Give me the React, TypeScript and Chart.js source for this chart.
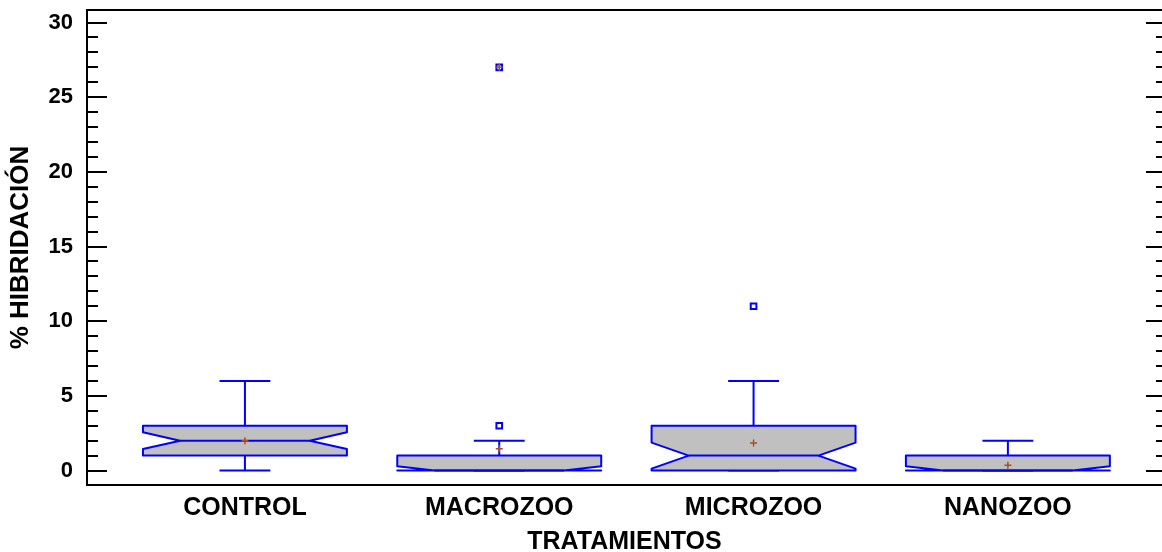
import React, { useEffect, useRef } from "react";
import { Chart, registerables } from "chart.js";

Chart.register(...registerables);

// ---- data ----
const categories = ["CONTROL", "MACROZOO", "MICROZOO", "NANOZOO"];
const whiskerLow = [0, 0, 0, 0];
const q1 = [1, 0, 0, 0];
const median = [2, 0, 1, 0];
const q3 = [3, 1, 3, 1];
const whiskerHigh = [6, 2, 6, 2];
const notchLow = [1.44, -0.28, 0.13, -0.28];
const notchHigh = [2.56, 0.28, 1.87, 0.28];
const means = [2.0, 1.45, 1.85, 0.35];
const outlierCategory = [1, 1, 2];
const outlierValues = [3, 27, 11];
const farOutlierCategory = [1];
const farOutlierValues = [27];
const yTickValues = [0, 5, 10, 15, 20, 25, 30];
const yMinorStep = 1;
const yTitle = "% HIBRIDACIÓN";
const xTitle = "TRATAMIENTOS";

// ---- styling ----
const BLUE = "#0000FF";
const GRAY = "#C0C0C0";
const BROWN = "#A8501E";
const FONT = "'Liberation Sans', Arial, Helvetica, sans-serif";
const BOX_WIDTH = 0.802; // in category units
const NOTCH_INDENT = 0.146;
const CAP_HALF = 0.1;

const boxPlugin = {
  id: "notchedBoxes",
  beforeDatasetsDraw(chart: any) {
    const { ctx, scales } = chart;
    const x = scales.x;
    const y = scales.y;
    ctx.save();
    ctx.lineJoin = "round";
    ctx.lineCap = "butt";
    categories.forEach((_, i) => {
      const cx = x.getPixelForValue(i);
      const left = x.getPixelForValue(i - BOX_WIDTH / 2);
      const right = x.getPixelForValue(i + BOX_WIDTH / 2);
      const ind = x.getPixelForValue(i + NOTCH_INDENT) - cx;
      const capL = x.getPixelForValue(i - CAP_HALF);
      const capR = x.getPixelForValue(i + CAP_HALF);
      const clamp = (v: number) => Math.min(q3[i], Math.max(q1[i], v));
      const yq1 = y.getPixelForValue(q1[i]);
      const yq3 = y.getPixelForValue(q3[i]);
      const ymed = y.getPixelForValue(median[i]);
      const ynl = y.getPixelForValue(clamp(notchLow[i]));
      const ynh = y.getPixelForValue(clamp(notchHigh[i]));
      const ywl = y.getPixelForValue(whiskerLow[i]);
      const ywh = y.getPixelForValue(whiskerHigh[i]);

      ctx.strokeStyle = BLUE;
      ctx.lineWidth = 2;
      // whiskers and caps
      ctx.beginPath();
      ctx.moveTo(cx, yq3);
      ctx.lineTo(cx, ywh);
      ctx.moveTo(capL, ywh);
      ctx.lineTo(capR, ywh);
      ctx.moveTo(cx, yq1);
      ctx.lineTo(cx, ywl);
      ctx.moveTo(capL, ywl);
      ctx.lineTo(capR, ywl);
      ctx.stroke();

      // notched box
      ctx.beginPath();
      ctx.moveTo(left, yq3);
      ctx.lineTo(left, ynh);
      ctx.lineTo(left + ind, ymed);
      ctx.lineTo(left, ynl);
      ctx.lineTo(left, yq1);
      ctx.lineTo(right, yq1);
      ctx.lineTo(right, ynl);
      ctx.lineTo(right - ind, ymed);
      ctx.lineTo(right, ynh);
      ctx.lineTo(right, yq3);
      ctx.closePath();
      ctx.fillStyle = GRAY;
      ctx.fill();
      ctx.stroke();

      // median line
      ctx.beginPath();
      ctx.moveTo(left + ind, ymed);
      ctx.lineTo(right - ind, ymed);
      ctx.stroke();
    });
    ctx.restore();
  },
  afterDraw(chart: any) {
    const { ctx, chartArea, scales } = chart;
    const y = scales.y;
    ctx.save();
    ctx.strokeStyle = "#000";
    ctx.lineWidth = 2;
    // top frame line
    ctx.beginPath();
    ctx.moveTo(chartArea.left - 1, chartArea.top);
    ctx.lineTo(chart.width, chartArea.top);
    ctx.stroke();
    // inward ticks on left axis and (cropped) right axis
    const first = yTickValues[0];
    const last = yTickValues[yTickValues.length - 1];
    const rightAxis = chartArea.right + 4;
    ctx.beginPath();
    for (let v = first; v <= last + 1e-9; v += yMinorStep) {
      const py = Math.round(y.getPixelForValue(v));
      const major = yTickValues.includes(v);
      ctx.moveTo(chartArea.left, py);
      ctx.lineTo(chartArea.left + (major ? 20 : 11), py);
      ctx.moveTo(rightAxis, py);
      ctx.lineTo(rightAxis - (major ? 20 : 10), py);
    }
    ctx.stroke();
    ctx.restore();
  },
};

export default function App() {
  const ref = useRef<HTMLCanvasElement | null>(null);

  useEffect(() => {
    if (!ref.current) return;
    const chart = new Chart(ref.current, {
      type: "scatter",
      data: {
        datasets: [
          {
            label: "far",
            data: farOutlierValues.map((v, k) => ({ x: farOutlierCategory[k], y: v })),
            pointStyle: "cross",
            pointRadius: 3.5,
            borderColor: BROWN,
            borderWidth: 1.5,
          },
          {
            label: "outliers",
            data: outlierValues.map((v, k) => ({ x: outlierCategory[k], y: v })),
            pointStyle: "rect",
            pointRadius: 4,
            backgroundColor: "#FFFFFF",
            borderColor: BLUE,
            borderWidth: 2,
          },
          {
            label: "means",
            data: means.map((m, i) => ({ x: i, y: m })),
            pointStyle: "cross",
            pointRadius: 3.5,
            borderColor: BROWN,
            borderWidth: 1.5,
          },
        ],
      },
      options: {
        animation: false,
        responsive: false,
        devicePixelRatio: 1,
        events: [],
        layout: { autoPadding: false, padding: { top: 10, left: 0, right: 0, bottom: 0 } },
        plugins: {
          legend: { display: false },
          tooltip: { enabled: false },
        },
        scales: {
          x: {
            type: "linear",
            position: "bottom",
            min: -0.621,
            max: 3.606,
            grid: { display: false, drawTicks: false },
            border: { display: true, color: "#000", width: 2 },
            ticks: {
              color: "#000",
              font: { family: FONT, size: 25, weight: "bold" },
              padding: 8,
              autoSkip: false,
              maxRotation: 0,
              minRotation: 0,
              callback: (v: any) => categories[Number(v)] ?? "",
            },
            afterBuildTicks: (s: any) => {
              s.ticks = categories.map((_, i) => ({ value: i }));
            },
            afterFit: (s: any) => {
              s.height = 67;
              s.paddingLeft = 0;
              s.paddingRight = 0;
            },
            title: {
              display: true,
              text: xTitle,
              color: "#000",
              font: { family: FONT, size: 25, weight: "bold", lineHeight: 0.76 },
              padding: 0,
            },
          },
          y: {
            type: "linear",
            position: "left",
            min: -0.97,
            max: 30.84,
            grid: { display: false, drawTicks: false },
            border: { display: true, color: "#000", width: 2 },
            ticks: {
              color: "#000",
              font: { family: FONT, size: 22, weight: "bold" },
              padding: 14,
            },
            afterBuildTicks: (s: any) => {
              s.ticks = yTickValues.map((v) => ({ value: v }));
            },
            afterFit: (s: any) => {
              s.width = 87;
              s.paddingTop = 0;
              s.paddingBottom = 0;
            },
            title: {
              display: true,
              text: yTitle,
              color: "#000",
              font: { family: FONT, size: 26, weight: "bold", lineHeight: 1.2 },
              padding: { top: 5, bottom: 0 },
            },
          },
        },
      },
      plugins: [boxPlugin],
    } as any);
    return () => chart.destroy();
  }, []);

  return (
    <div style={{ position: "fixed", left: 0, top: 0, width: 1162, height: 552, background: "#fff" }}>
      <canvas ref={ref} width={1162} height={552} style={{ width: 1162, height: 552, display: "block" }} />
    </div>
  );
}
